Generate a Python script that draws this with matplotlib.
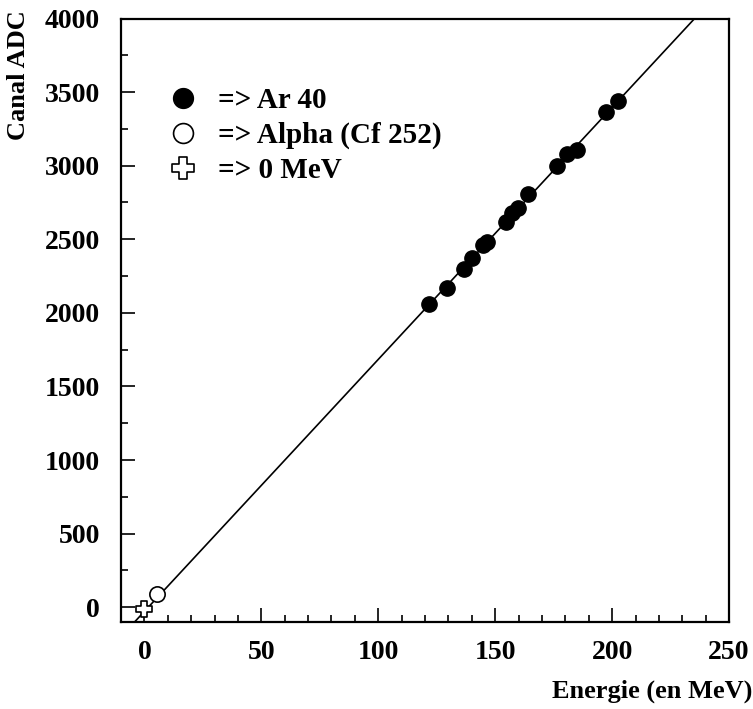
import numpy as np
import matplotlib.pyplot as plt
from matplotlib.path import Path
from matplotlib.ticker import MultipleLocator

# Ar 40 points (energy in MeV, ADC channel)
ar_energy = [121.9, 129.3, 136.7, 140.0, 144.6, 146.4, 154.7, 157.1, 159.9,
             164.2, 176.3, 180.6, 184.9, 197.4, 202.5]
ar_adc = [2060, 2171, 2296, 2375, 2458, 2485, 2620, 2677, 2711,
          2808, 3000, 3080, 3108, 3365, 3440]

# alpha from Cf 252 and the zero point
alpha_energy = [5.4]
alpha_adc = [88]
zero_energy = [0.0]
zero_adc = [-15]

# straight-line calibration fit
fit_slope, fit_intercept = 17.12, -28.0

plt.rcParams['font.family'] = ['Liberation Serif', 'DejaVu Serif']
plt.rcParams['font.weight'] = 'bold'

# outlined plus marker (open cross)
a, b = 0.35, 1.0
cross_verts = [(-a, b), (a, b), (a, a), (b, a), (b, -a), (a, -a), (a, -b),
               (-a, -b), (-a, -a), (-b, -a), (-b, a), (-a, a), (-a, b)]
open_cross = Path(cross_verts, closed=True)

fig = plt.figure(figsize=(7.53, 7.09), dpi=100)
ax = fig.add_axes([0.1607, 0.1227, 0.8075, 0.8512])

xl = np.array([-10, 250])
ax.plot(xl, fit_intercept + fit_slope * xl, color='black', lw=1.2, zorder=1)

ax.plot(ar_energy, ar_adc, 'o', color='black', ms=11, ls='none',
        label='=> Ar 40', zorder=3)
ax.plot(alpha_energy, alpha_adc, 'o', mfc='white', mec='black', mew=1.2,
        ms=11, ls='none', label='=> Alpha (Cf 252)', zorder=3)
ax.plot(zero_energy, zero_adc, marker=open_cross, mfc='white', mec='black',
        mew=1.2, ms=12, ls='none', label='=> 0 MeV', zorder=3)

ax.set_xlim(-10, 250)
ax.set_ylim(-100, 4000)
ax.xaxis.set_major_locator(MultipleLocator(50))
ax.xaxis.set_minor_locator(MultipleLocator(10))
ax.yaxis.set_major_locator(MultipleLocator(500))
ax.yaxis.set_minor_locator(MultipleLocator(250))
ax.tick_params(which='both', direction='in', top=False, right=False,
               labelsize=20, width=1.2)
ax.tick_params(axis='y', which='major', length=10, pad=15)
ax.tick_params(axis='x', which='major', length=10, pad=13)
ax.tick_params(which='minor', length=5)
for s in ax.spines.values():
    s.set_linewidth(1.6)

ax.set_xlabel('Energie (en MeV)', fontsize=19, fontweight='bold', loc='right')
ax.xaxis.set_label_coords(1.038, -0.095)
ax.set_ylabel('Canal ADC', fontsize=19, fontweight='bold', loc='top')
ax.yaxis.set_label_coords(-0.15, 1.014)

ax.legend(loc='upper left', bbox_to_anchor=(0.078, 0.886), frameon=False,
          fontsize=21, handlelength=1.0, handletextpad=0.7, borderpad=0,
          borderaxespad=0, labelspacing=0.26, markerscale=1.3)

plt.savefig('out.png', dpi=100)
